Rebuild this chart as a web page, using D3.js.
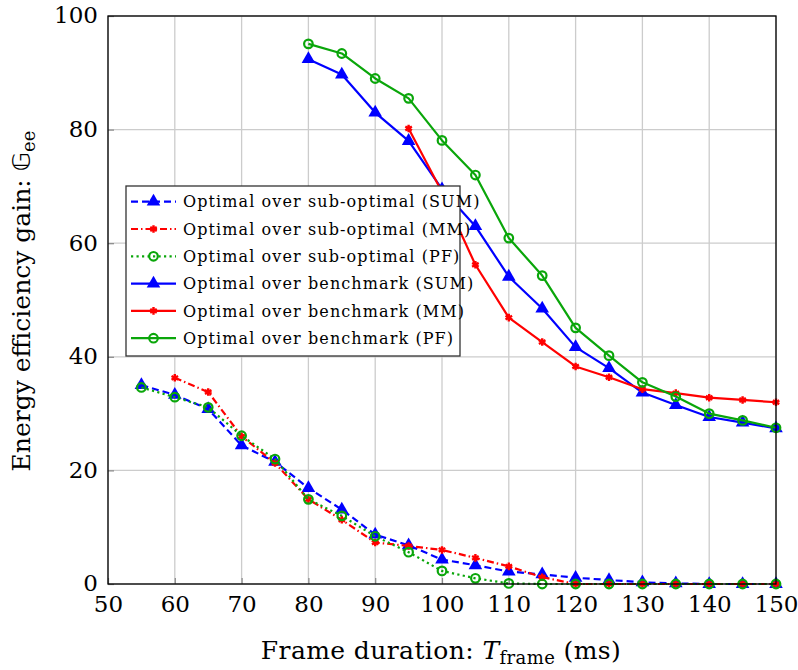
<!DOCTYPE html>
<meta charset="utf-8">
<body style="margin:0;background:#fff;">
<svg width="798" height="670"></svg>
<script src="https://cdn.jsdelivr.net/npm/d3@7"></script>
<script>
    // frame durations (ms)
    let xSub = d3.range(55, 151, 5),
        xBench = d3.range(80, 151, 5),
        xTicks = d3.range(50, 151, 10),
        yTicks = [0, 20, 40, 60, 80, 100];

    // optimal over sub-optimal
    let subSum = [35.0, 33.3, 30.8, 24.4, 21.5, 16.9, 13.1, 8.7, 6.8, 4.3, 3.3, 2.2, 1.7, 1.1, 0.7, 0.3, 0.1, 0, 0, 0];
    let subMM = [null, 36.3, 33.8, 26.0, 21.3, 14.9, 11.3, 7.3, 6.7, 6.0, 4.6, 3.1, 1.2, 0, 0, 0, 0, 0, 0, 0];
    let subPF = [34.6, 32.9, 31.1, 26.1, 22.0, 14.9, 12.0, 8.4, 5.6, 2.3, 1.0, 0.1, 0, 0, 0, 0, 0, 0, 0, 0];
    // optimal over benchmark
    let benchSum = [92.4, 89.7, 83.0, 78.0, 69.5, 63.0, 54.1, 48.5, 41.7, 38.0, 33.7, 31.5, 29.4, 28.4, 27.4];
    let benchMM = [null, null, null, 80.2, 69.0, 56.2, 46.9, 42.6, 38.3, 36.4, 34.3, 33.6, 32.8, 32.4, 32.0];
    let benchPF = [95.1, 93.4, 89.0, 85.5, 78.1, 72.0, 60.9, 54.3, 45.1, 40.2, 35.5, 33.0, 30.0, 28.8, 27.5];

    const BLUE = '#0000ff', RED = '#ff0000', GREEN = '#0aa60a';
    let series = [
        { name: 'Optimal over sub-optimal (SUM)', xs: xSub, ys: subSum, color: BLUE, dash: '7,4', mark: 'tri' },
        { name: 'Optimal over sub-optimal (MM)', xs: xSub, ys: subMM, color: RED, dash: '7,3,1.5,3', mark: 'star' },
        { name: 'Optimal over sub-optimal (PF)', xs: xSub, ys: subPF, color: GREEN, dash: '2.2,3.3', mark: 'circ' },
        { name: 'Optimal over benchmark (SUM)', xs: xBench, ys: benchSum, color: BLUE, dash: null, mark: 'tri' },
        { name: 'Optimal over benchmark (MM)', xs: xBench, ys: benchMM, color: RED, dash: null, mark: 'star' },
        { name: 'Optimal over benchmark (PF)', xs: xBench, ys: benchPF, color: GREEN, dash: null, mark: 'circ' },
    ];

    let svg = d3.select('svg'),
        font = '"DejaVu Serif", serif',
        pLeft = 108, pRight = 776, pTop = 16, pBottom = 584;

    let x = d3.scaleLinear().domain([50, 150]).range([pLeft, pRight]),
        y = d3.scaleLinear().domain([0, 100]).range([pBottom, pTop]);

    // grid
    let grid = svg.append('g').attr('stroke', '#cccccc').attr('stroke-width', 1.3);
    xTicks.forEach(t => grid.append('line').attr('x1', x(t)).attr('x2', x(t)).attr('y1', pTop).attr('y2', pBottom));
    yTicks.forEach(t => grid.append('line').attr('x1', pLeft).attr('x2', pRight).attr('y1', y(t)).attr('y2', y(t)));

    // axes
    let xAxis = svg.append('g').attr('transform', `translate(0,${pBottom})`)
        .call(d3.axisBottom(x).tickValues(xTicks).tickSize(-6).tickPadding(11));
    let yAxis = svg.append('g').attr('transform', `translate(${pLeft},0)`)
        .call(d3.axisLeft(y).tickValues(yTicks).tickSize(-6).tickPadding(10));
    [xAxis, yAxis].forEach(a => {
        a.select('.domain').remove();
        a.selectAll('line').attr('stroke', '#888').attr('stroke-width', 1.2);
        a.selectAll('text').attr('font-family', font).attr('font-size', 23).attr('fill', '#000');
    });
    xAxis.selectAll('text').attr('dy', '0.72em');
    yAxis.selectAll('text').attr('dy', '0.3em');

    // marks
    let drawMark = (g, s, px, py) => {
        if (s.mark === 'tri') {
            g.append('path').attr('d', d3.symbol(d3.symbolTriangle, 80)())
                .attr('transform', `translate(${px},${py})`).attr('fill', s.color);
        } else if (s.mark === 'circ') {
            g.append('circle').attr('cx', px).attr('cy', py).attr('r', 4.3)
                .attr('fill', 'none').attr('stroke', s.color).attr('stroke-width', 2.2);
        } else {
            g.append('path').attr('d', d3.symbol(d3.symbolAsterisk, 40)())
                .attr('transform', `translate(${px},${py})`).attr('fill', 'none')
                .attr('stroke', s.color).attr('stroke-width', 2.4);
        }
    };

    let line = d3.line().defined(d => d[1] != null).x(d => x(d[0])).y(d => y(d[1]));
    let plot = svg.append('g');
    series.forEach(s => {
        let pts = s.xs.map((v, i) => [v, s.ys[i]]);
        plot.append('path').datum(pts).attr('d', line)
            .attr('fill', 'none').attr('stroke', s.color).attr('stroke-width', 2.2)
            .attr('stroke-dasharray', s.dash).attr('stroke-linejoin', 'round');
        pts.filter(d => d[1] != null).forEach(d => drawMark(plot, s, x(d[0]), y(d[1])));
    });

    // frame
    svg.append('rect').attr('x', pLeft).attr('y', pTop).attr('width', pRight - pLeft).attr('height', pBottom - pTop)
        .attr('fill', 'none').attr('stroke', '#000').attr('stroke-width', 1.3);

    // legend
    let lg = svg.append('g').attr('transform', 'translate(126,186)');
    lg.append('rect').attr('width', 334).attr('height', 170).attr('fill', '#fff')
        .attr('stroke', '#333').attr('stroke-width', 1.3);
    series.forEach((s, i) => {
        let cy = 15.7 + i * 27.3;
        lg.append('line').attr('x1', 5).attr('x2', 50).attr('y1', cy).attr('y2', cy)
            .attr('stroke', s.color).attr('stroke-width', 2.2).attr('stroke-dasharray', s.dash);
        drawMark(lg, s, 27.5, cy);
        lg.append('text').attr('x', 57).attr('y', cy).attr('dy', '0.35em')
            .attr('font-family', font).attr('font-size', 16).attr('letter-spacing', 1.1).text(s.name);
    });

    // axis titles
    svg.append('text').attr('x', 441).attr('y', 659).attr('text-anchor', 'middle')
        .attr('font-family', font).attr('font-size', 25).attr('letter-spacing', 0.4)
        .call(t => {
            t.append('tspan').text('Frame duration: ');
            t.append('tspan').attr('font-style', 'italic').text('T');
            t.append('tspan').attr('font-size', 18).attr('dy', 5).text('frame');
            t.append('tspan').attr('dy', -5).text(' (ms)');
        });
    svg.append('text').attr('transform', `translate(30,301) rotate(-90)`)
        .attr('text-anchor', 'middle').attr('font-family', font).attr('font-size', 25)
        .call(t => {
            t.append('tspan').text('Energy efficiency gain: ');
            t.append('tspan').attr('font-family', '"DejaVu Sans", sans-serif').text('𝔾');
            t.append('tspan').attr('font-size', 18).attr('dy', 5).text('ee');
        });
</script>
</body>
